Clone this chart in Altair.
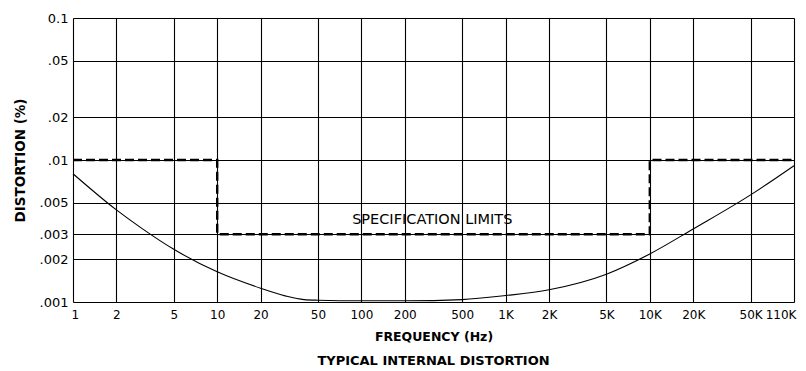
import altair as alt
import pandas as pd

# Typical internal distortion curve (frequency Hz, distortion %)
curve_freq = [1, 2, 3, 5, 10, 20, 30, 40, 50, 100, 200, 500, 1000, 2000, 5000, 10000, 20000, 50000, 100000]
curve_dist = [0.0080, 0.00445, 0.0033, 0.00235, 0.00163, 0.00125, 0.0011, 0.00104, 0.00103,
              0.00102, 0.00102, 0.00104, 0.00111, 0.00122, 0.00157, 0.00218, 0.00327, 0.00568, 0.00912]

# Specification limits (stepped)
spec_freq = [1, 10, 10, 10000, 10000, 100000]
spec_dist = [0.01, 0.01, 0.003, 0.003, 0.01, 0.01]

x_ticks = [1, 2, 5, 10, 20, 50, 100, 200, 500, 1000, 2000, 5000, 10000, 20000, 50000, 100000]
x_labels = ["1", "2", "5", "10", "20", "50", "100", "200", "500", "1K", "2K", "5K", "10K", "20K", "50K", "110K"]
y_ticks = [0.001, 0.002, 0.003, 0.005, 0.01, 0.02, 0.05, 0.1]
y_labels = [".001", ".002", ".003", ".005", ".01", ".02", ".05", "0.1"]

spec_label = "SPECIFICATION LIMITS"
spec_label_pos = (310, 0.0038)

curve_df = pd.DataFrame({"f": curve_freq, "d": curve_dist})
spec_df = pd.DataFrame({"f": spec_freq, "d": spec_dist, "i": list(range(len(spec_freq)))})
lab_df = pd.DataFrame({"f": [spec_label_pos[0]], "d": [spec_label_pos[1]], "t": [spec_label]})

FONT = "DejaVu Sans"

def expr(vals, labs):
    return "[" + ",".join(f"'{l}'" for l in labs) + "][indexof([" + ",".join(repr(v) for v in vals) + "], datum.value)]"

xs = alt.Scale(type="log", domain=[1, 100000], nice=False)
ys = alt.Scale(type="log", domain=[0.001, 0.1], nice=False)

x_axis = alt.Axis(values=x_ticks, labelExpr=expr(x_ticks, x_labels), title="FREQUENCY (Hz)",
                  grid=True, gridColor="black", gridWidth=1.1, gridOpacity=1, ticks=False, domain=False,
                  labelFont=FONT, labelFontSize=12, labelColor="black", labelPadding=7,
                  labelOverlap=False, labelBound=False,
                  titleFont=FONT, titleFontSize=12.5, titleFontWeight="bold", titleColor="black", titlePadding=10,
                  labelFlush=True, labelFlushOffset=2)
y_axis = alt.Axis(values=y_ticks, labelExpr=expr(y_ticks, y_labels), title="DISTORTION (%)",
                  grid=True, gridColor="black", gridWidth=1.1, gridOpacity=1, ticks=False, domain=False,
                  labelFont=FONT, labelFontSize=13, labelColor="black", labelPadding=5, labelOverlap=False,
                  titleFont=FONT, titleFontSize=13.5, titleFontWeight="bold", titleColor="black", titlePadding=12,
                  labelFlush=False)

curve = alt.Chart(curve_df).mark_line(color="black", strokeWidth=1.1, interpolate="monotone").encode(
    x=alt.X("f:Q", scale=xs, axis=x_axis),
    y=alt.Y("d:Q", scale=ys, axis=y_axis),
)

spec = alt.Chart(spec_df).mark_line(color="black", strokeWidth=2.4, strokeDash=[9, 4]).encode(
    x=alt.X("f:Q", scale=xs),
    y=alt.Y("d:Q", scale=ys),
    order="i:Q",
)

label = alt.Chart(lab_df).mark_text(font=FONT, fontSize=14.5, color="black", align="center", baseline="middle").encode(
    x=alt.X("f:Q", scale=xs),
    y=alt.Y("d:Q", scale=ys),
    text="t:N",
)

chart = alt.layer(curve, spec, label).properties(
    width=721,
    height=284,
    autosize=alt.AutoSizeParams(type="none"),
    padding={"left": 65, "top": 10, "right": 4, "bottom": 68},
    title=alt.TitleParams("TYPICAL   INTERNAL   DISTORTION", orient="bottom", anchor="middle",
                          font=FONT, fontSize=13, fontWeight="bold", color="black", offset=12),
).configure_view(stroke="black", strokeWidth=1.6).configure(background="white")

chart.save("out.html", embed_options={"renderer": "svg", "actions": False})
